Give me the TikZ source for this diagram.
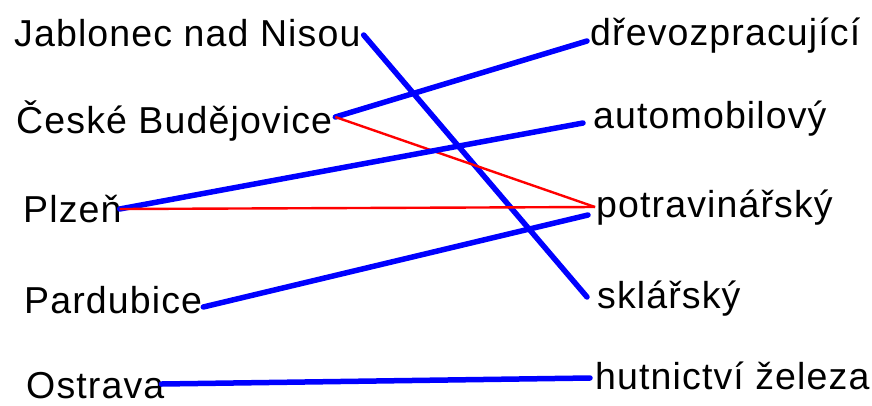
\documentclass[tikz,border=0pt]{standalone}
\usepackage{fontspec}
\setmainfont{Liberation Sans}[LetterSpace=3.0]
\begin{document}
\begin{tikzpicture}[x=1pt,y=-1pt]
\tikzset{lab/.style={anchor=base west,inner sep=3pt,font=\fontsize{37.5}{45}\selectfont},
  bluelink/.style={blue,line width=5.5pt,line cap=round},
  redlink/.style={red,line width=2.4pt}}
\useasboundingbox (0,0) rectangle (872,405);
% Cities
\node[lab] (jab) at (11,46) {Jablonec nad Nisou};
\node[lab] (cb) at (13,133) {České Budějovice};
\node[lab] (plz) at (20,222) {Plzeň};
\node[lab] (pard) at (21,313) {Pardubice};
\node[lab] (ostr) at (23,398) {Ostrava};
% Industries
\node[lab] (drevo) at (587,45) {dřevozpracující};
\node[lab] (auto) at (590,128) {automobilový};
\node[lab] (potr) at (593,217) {potravinářský};
\node[lab] (skl) at (594,308) {sklářský};
\node[lab] (hut) at (592,389) {hutnictví železa};
% Links
\draw[bluelink] ([yshift=11pt]jab.base east) -- ([xshift=-7pt,yshift=11pt]skl.base west);
\draw[bluelink] ([yshift=16pt]cb.base east) -- ([yshift=4pt]drevo.base west);
\draw[redlink] ([yshift=16pt]cb.base east) -- ([xshift=2pt,yshift=10pt]potr.base west);
\draw[bluelink] ([xshift=-5pt,yshift=13pt]plz.base east) -- ([xshift=-7pt,yshift=5pt]auto.base west);
\draw[redlink] ([xshift=-5pt,yshift=13pt]plz.base east) -- ([xshift=2pt,yshift=10pt]potr.base west);
\draw[bluelink] ([xshift=-2pt,yshift=6pt]pard.base east) -- ([xshift=-5pt,yshift=2pt]potr.base west);
\draw[bluelink] ([xshift=-6pt,yshift=14pt]ostr.base east) -- ([xshift=-2pt,yshift=11pt]hut.base west);
\end{tikzpicture}
\end{document}
